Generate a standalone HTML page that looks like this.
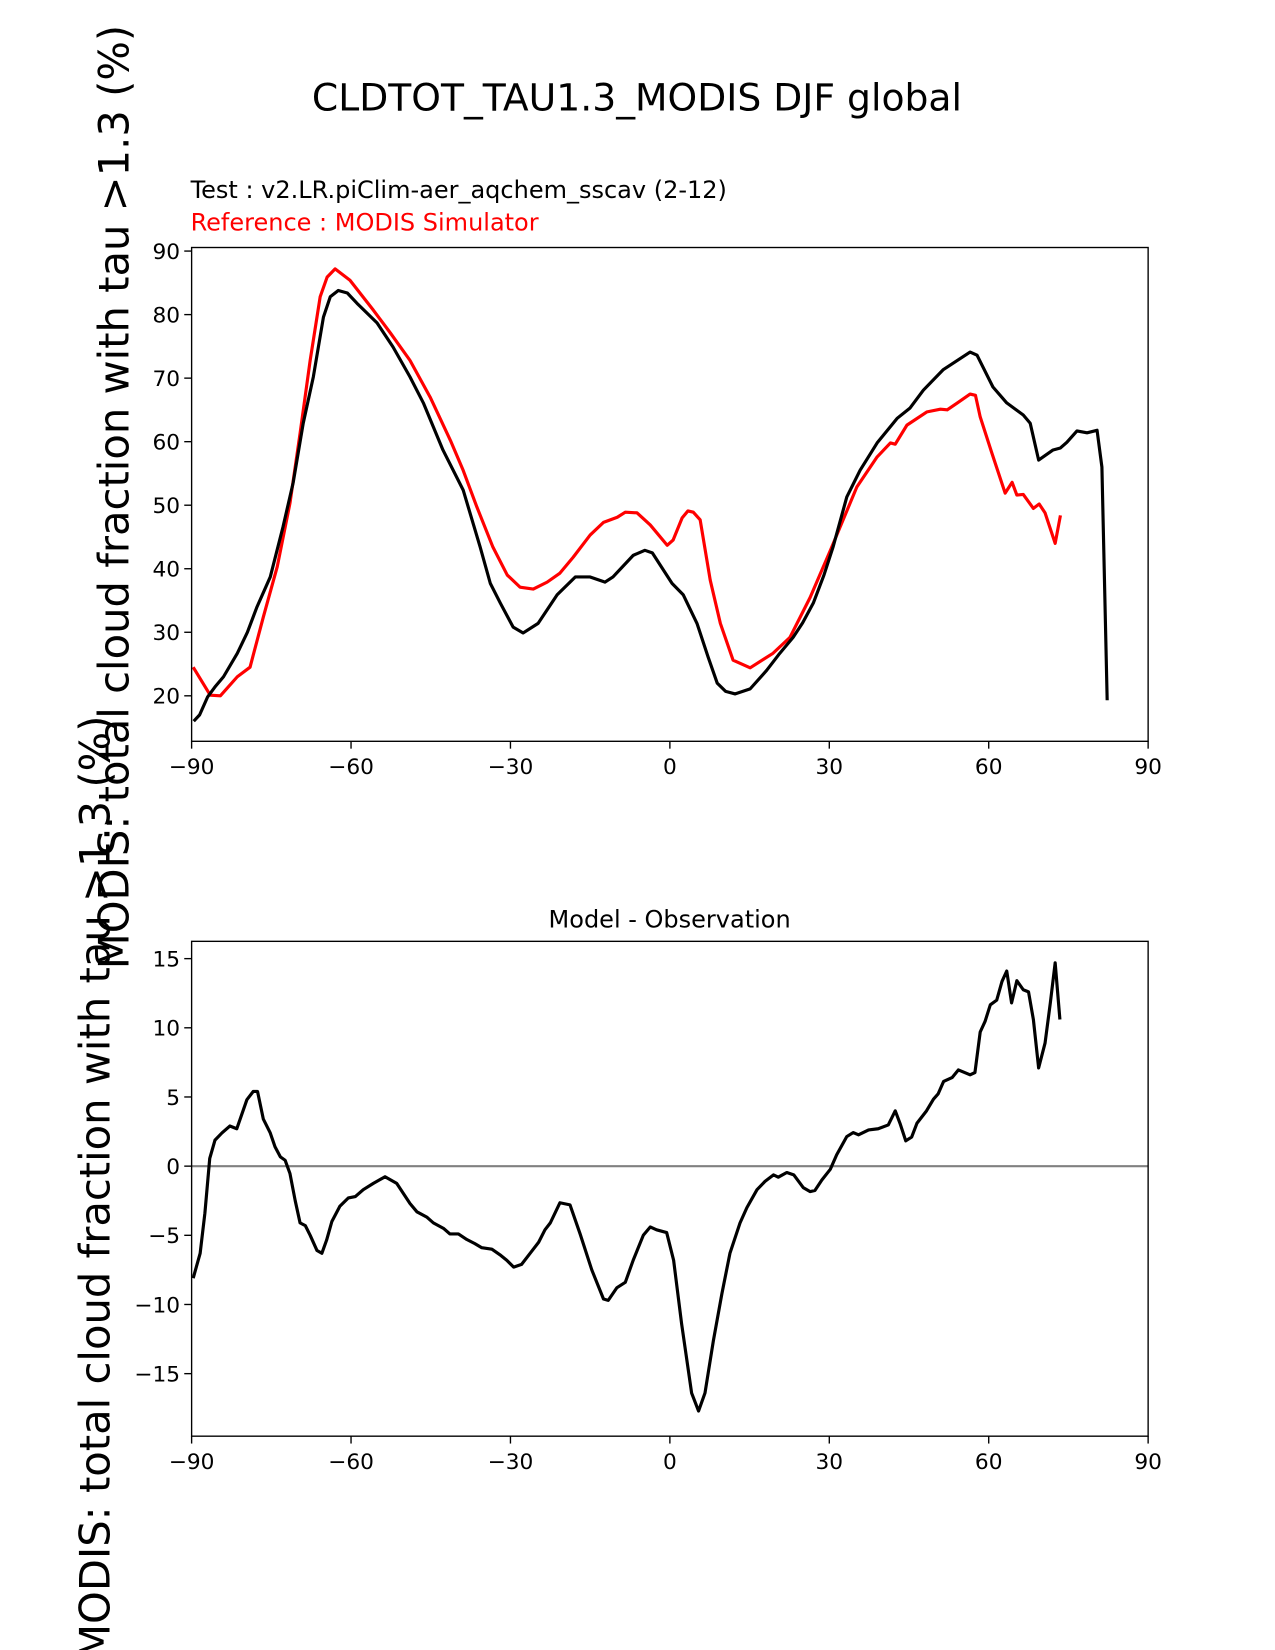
<!DOCTYPE html>
<html><head><meta charset="utf-8"><style>html,body{margin:0;padding:0;background:#fff}svg{display:block}</style></head>
<body>
<svg id="fig" width="1275" height="1650" viewBox="0 0 1211 1567" xmlns="http://www.w3.org/2000/svg" font-family="DejaVu Sans, Liberation Sans, sans-serif">
<rect width="1211" height="1567" fill="#fff"/>
<text x="605" y="105" font-size="35.8" text-anchor="middle">CLDTOT_TAU1.3_MODIS DJF global</text>
<text x="181" y="188" font-size="22.8">Test : v2.LR.piClim-aer_aqchem_sscav (2-12)</text>
<text x="181" y="219" font-size="22.8" fill="red">Reference : MODIS Simulator</text>
<text x="636" y="881" font-size="22.8" text-anchor="middle">Model - Observation</text>
<text transform="translate(122,472) rotate(-90)" font-size="40" text-anchor="middle" textLength="897" lengthAdjust="spacingAndGlyphs">MODIS: total cloud fraction with tau &gt;1.3 (%)</text>
<text transform="translate(104,1128) rotate(-90)" font-size="40" text-anchor="middle" textLength="897" lengthAdjust="spacingAndGlyphs">MODIS: total cloud fraction with tau &gt;1.3 (%)</text>
<g id="topPlot"></g>
<g id="botPlot"></g>
</svg>
<script>
const xTicks = [-90,-60,-30,0,30,60,90];
const topYTicks = [20,30,40,50,60,70,80,90];
const botYTicks = [-15,-10,-5,0,5,10,15];
const testLat = [-89.6,-88.5,-87,-85.5,-84,-81.4,-79.5,-77.7,-75.2,-72.8,-70.9,-69,-67.1,-65.2,-63.9,-62.4,-60.7,-58.9,-55.1,-52.1,-48.9,-46.4,-42.7,-38.9,-35.7,-33.8,-31.9,-29.5,-27.6,-24.8,-21.2,-17.8,-15,-12.2,-10.7,-6.9,-4.7,-3.3,0.4,2.5,5.1,7.2,8.9,10.5,12.3,15.1,18.2,20.5,23.2,25,27,29,30.7,33.3,35.8,39,42.8,45.2,47.7,51.4,56.5,57.8,60.8,63.4,66.5,67.8,69.4,72.1,73.5,74.7,76.6,78.5,80.4,81.3,82.3];
const testVal = [16,17,19.8,21.5,23,26.7,30,34,38.7,46.6,53.5,62.9,70.2,79.6,82.8,83.8,83.4,81.8,78.7,74.9,70.2,66.1,58.7,52.4,43.4,37.7,34.6,30.8,29.9,31.4,35.9,38.7,38.7,37.9,38.7,42.1,42.9,42.5,37.7,35.9,31.4,26.1,22,20.7,20.3,21.1,24,26.5,29.2,31.5,34.6,39,43.4,51.3,55.5,59.8,63.7,65.3,68.1,71.3,74.1,73.6,68.6,66.1,64.2,62.9,57.1,58.7,59,59.9,61.7,61.4,61.8,56,19.3];
const refLat = [-89.7,-86.5,-84.6,-81.4,-79,-76.5,-73.9,-71.5,-69.6,-67.7,-65.8,-64.5,-63,-60.2,-55.8,-52.6,-48.9,-45.1,-41.3,-38.9,-36.3,-33.3,-30.6,-28.2,-25.7,-23.1,-20.7,-18.2,-15,-12.5,-9.9,-8.4,-6.2,-3.7,-0.5,0.6,2.3,3.4,4.4,5.7,7.6,9.5,11.9,15.1,19.4,22.6,26.4,30.2,35.2,39,41.5,42.4,44.6,48.4,50.9,52.2,54.1,56.5,57.5,58.4,60.6,63.1,64.4,65.3,66.5,68.4,69.5,70.6,72.5,73.5];
const refVal = [24.5,20.1,20,23,24.5,32.4,40.3,50.3,61.3,72.8,82.8,85.9,87.2,85.4,80.7,77.1,72.8,67,60.2,55.5,49.7,43.4,39,37.1,36.8,37.9,39.3,41.8,45.3,47.3,48.1,48.9,48.8,46.9,43.7,44.5,48,49.1,48.9,47.7,38.2,31.4,25.6,24.4,26.7,29.2,35.5,42.9,52.9,57.6,59.8,59.6,62.6,64.7,65.1,65,66.1,67.5,67.3,63.9,58.2,51.9,53.6,51.6,51.7,49.5,50.2,48.8,44,48.4];
const diffLat = [-89.7,-88.4,-87.5,-86.6,-85.6,-84.3,-82.8,-81.5,-79.6,-78.4,-77.6,-76.5,-75.2,-74.3,-73.3,-72.4,-71.5,-70.5,-69.6,-68.6,-67.7,-66.4,-65.5,-64.6,-63.6,-62.1,-60.5,-59.2,-57.7,-55.8,-53.6,-51.4,-48.9,-47.6,-45.7,-44.5,-42.6,-41.4,-39.8,-38.2,-36.7,-35.4,-33.5,-32,-30.7,-29.4,-27.9,-26.3,-24.7,-23.5,-22.5,-20.7,-18.8,-16.9,-14.7,-12.5,-11.6,-10,-8.4,-6.9,-5,-3.7,-2.5,-0.6,0.7,2.2,4.1,5.4,6.6,8.2,9.8,11.3,13.2,14.5,16.4,17.9,19.5,20.4,22,23.3,25.1,26.4,27.3,28.6,30.2,31.4,33.3,34.5,35.5,37.4,39.2,41.1,42.4,43.3,44.4,45.5,46.5,48.3,49.6,50.5,51.5,53.1,54.3,56.5,57.4,58.4,59.3,60.3,61.5,62.5,63.4,64.3,65.3,66.5,67.5,68.4,69.4,70.6,71.6,72.5,73.4];
const diffVal = [-8.1,-6.3,-3.4,0.56,1.88,2.4,2.9,2.7,4.8,5.4,5.4,3.4,2.4,1.4,0.67,0.43,-0.53,-2.5,-4.1,-4.3,-5,-6.1,-6.3,-5.35,-4,-2.9,-2.3,-2.2,-1.7,-1.25,-0.77,-1.25,-2.7,-3.3,-3.7,-4.1,-4.5,-4.9,-4.9,-5.3,-5.6,-5.9,-6,-6.4,-6.8,-7.3,-7.1,-6.3,-5.5,-4.6,-4.1,-2.65,-2.8,-4.9,-7.5,-9.6,-9.7,-8.8,-8.4,-6.8,-5,-4.4,-4.6,-4.8,-6.8,-11.4,-16.4,-17.7,-16.4,-12.6,-9.2,-6.3,-4.1,-3,-1.7,-1.1,-0.63,-0.8,-0.46,-0.63,-1.55,-1.84,-1.76,-1,-0.22,0.82,2.14,2.43,2.26,2.62,2.7,2.98,4,3.1,1.83,2.1,3.1,4,4.84,5.23,6.12,6.4,6.96,6.6,6.77,9.7,10.46,11.66,12,13.35,14.1,11.8,13.4,12.75,12.6,10.6,7.1,8.9,11.8,14.7,10.6];

const NS='http://www.w3.org/2000/svg';
function mk(tag, attrs, parent){const e=document.createElementNS(NS,tag);for(const k in attrs)e.setAttribute(k,attrs[k]);parent.appendChild(e);return e;}
function panel(g, box, ymin, ymax, yTicks){
  const sx=v=>box.x0+(v+90)/180*(box.x1-box.x0);
  const sy=v=>box.y1-(v-ymin)/(ymax-ymin)*(box.y1-box.y0);
  xTicks.forEach(t=>{
    const l=mk('line',{x1:sx(t),x2:sx(t),y1:box.y1,y2:box.y1+7,stroke:'#000','stroke-width':1.3},g);
    
    
    const tx=mk('text',{x:sx(t),y:box.y1+31,'font-size':20.6,'text-anchor':'middle'},g);
    tx.textContent=(t<0?'\u2212'+(-t):String(t));
    
    
  });
  yTicks.forEach(t=>{
    const l=mk('line',{x1:box.x0-7,x2:box.x0,y1:sy(t),y2:sy(t),stroke:'#000','stroke-width':1.3},g);
    
    
    const tx=mk('text',{x:box.x0-11,y:sy(t)+7.5,'font-size':20.6,'text-anchor':'end'},g);
    tx.textContent=(t<0?'\u2212'+(-t):String(t));
    
    
  });
  return {sx,sy};
}
function drawLine(g, s, lat, val, color, name){
  const d=lat.map((la,i)=>(i?'L':'M')+s.sx(la).toFixed(1)+','+s.sy(val[i]).toFixed(1)).join('');
  const p=mk('path',{d:d,fill:'none',stroke:color,'stroke-width':3,'stroke-linejoin':'round'},g);
  
  
}
const topG=document.getElementById('topPlot');
const tb={x0:182,x1:1090.5,y0:235,y1:704};
const st=panel(topG,tb,12.84,90.56,topYTicks);
drawLine(topG,st,refLat,refVal,'#ff0000','reference-line');
drawLine(topG,st,testLat,testVal,'#000000','test-line');
const tf=mk('rect',{x:tb.x0,y:tb.y0,width:tb.x1-tb.x0,height:tb.y1-tb.y0,fill:'none',stroke:'#000','stroke-width':1.3},topG);



const botG=document.getElementById('botPlot');
const bb={x0:182,x1:1090.5,y0:894,y1:1364};
const sb=panel(botG,bb,-19.52,16.25,botYTicks);
const zl=mk('line',{x1:bb.x0,x2:bb.x1,y1:sb.sy(0),y2:sb.sy(0),stroke:'#808080','stroke-width':2},botG);


drawLine(botG,sb,diffLat,diffVal,'#000000','difference-line');
const bf=mk('rect',{x:bb.x0,y:bb.y0,width:bb.x1-bb.x0,height:bb.y1-bb.y0,fill:'none',stroke:'#000','stroke-width':1.3},botG);


</script>
</body></html>
